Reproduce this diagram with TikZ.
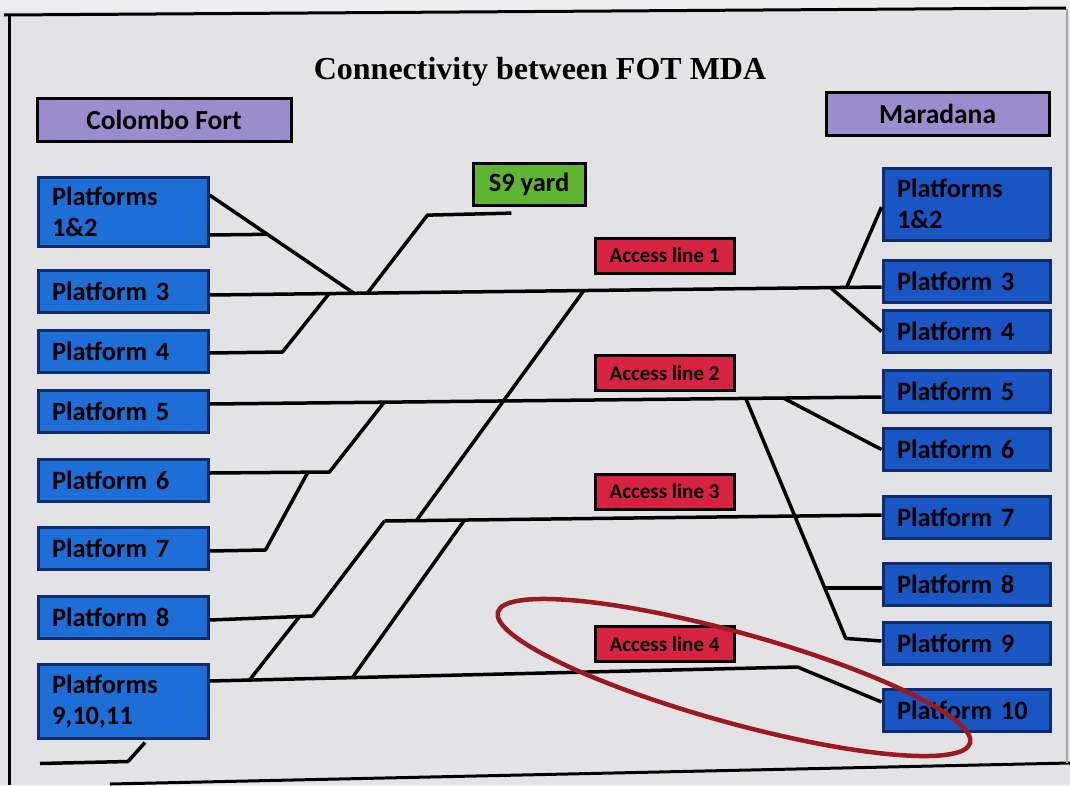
\documentclass[tikz,border=0pt]{standalone}
\usepackage{fontspec}
\setmainfont{Carlito}
\newfontfamily\titlefont{Liberation Serif}
\usepackage{xcolor}
\definecolor{paper}{RGB}{227,227,229}
\definecolor{paperlight}{RGB}{238,238,240}
\definecolor{leftblue}{RGB}{30,110,215}
\definecolor{rightblue}{RGB}{25,85,195}
\definecolor{boxedge}{RGB}{15,45,110}
\definecolor{stationpurple}{RGB}{155,140,205}
\definecolor{accred}{RGB}{215,35,65}
\definecolor{yardgreen}{RGB}{95,180,50}
\definecolor{ovalred}{RGB}{155,25,35}

\begin{document}
\begin{tikzpicture}[x=1pt,y=-1pt,
    plat/.style={draw=boxedge,line width=3pt,minimum height=42pt,inner xsep=14pt,inner ysep=0pt,align=left,font=\fontsize{26.5}{31}\selectfont\bfseries},
    lplat/.style={plat,fill=leftblue,text width=142pt},
    rplat/.style={plat,fill=rightblue,text width=139pt},
    station/.style={draw=black,line width=3pt,fill=stationpurple,minimum height=43pt,inner sep=0pt,font=\fontsize{27.5}{31}\selectfont\bfseries},
    yard/.style={draw=black,line width=3pt,fill=yardgreen,minimum width=112pt,minimum height=42pt,inner sep=0pt,font=\fontsize{26.5}{30}\selectfont\bfseries},
    access/.style={draw=black,line width=3pt,fill=accred,minimum width=139pt,minimum height=35pt,inner sep=0pt,font=\fontsize{21}{24}\selectfont\bfseries},
    track/.style={line width=3.5pt,line join=round}]
    \useasboundingbox (0,0) rectangle (1070,785);
    \fill[paper] (0,0) rectangle (1070,785);
    \fill[paperlight] (0,0) rectangle (1070,11);
    \draw[line width=3pt] (4,15) -- (1066,8);
    \draw[line width=3pt] (9,14) -- (9,785);
    \draw[line width=3pt] (110,784) -- (1070,763);
    \draw[gray!70,line width=1.5pt] (1067,9) -- (1067,763);

    \node[font=\titlefont\bfseries\fontsize{32}{38}\selectfont] (title) at (540,72) {Connectivity between FOT MDA};
    \node[station,minimum width=254pt] (fort) at (164,119.5) {Colombo Fort};
    \node[station,minimum width=223pt] (mda) at (937.5,114) {Maradana};
    \node[yard] (s9) at (529,184) {S9 yard};

    \node[lplat,minimum height=69pt] (lp12) at (123,211.5) {Platforms\\1\&2};
    \node[lplat] (lp3) at (123,291) {Platform 3};
    \node[lplat] (lp4) at (123,351) {Platform 4};
    \node[lplat] (lp5) at (123,411) {Platform 5};
    \node[lplat] (lp6) at (123,480) {Platform 6};
    \node[lplat] (lp7) at (123,548) {Platform 7};
    \node[lplat] (lp8) at (123,617) {Platform 8};
    \node[lplat,minimum height=74pt] (lp911) at (123,701) {Platforms\\9,10,11};

    \node[rplat,minimum height=72pt] (rp12) at (966.5,204) {Platforms\\1\&2};
    \node[rplat] (rp3) at (966.5,281.5) {Platform 3};
    \node[rplat] (rp4) at (966.5,331.5) {Platform 4};
    \node[rplat] (rp5) at (966.5,391.5) {Platform 5};
    \node[rplat] (rp6) at (966.5,449.5) {Platform 6};
    \node[rplat] (rp7) at (966.5,517.5) {Platform 7};
    \node[rplat] (rp8) at (966.5,584) {Platform 8};
    \node[rplat] (rp9) at (966.5,643) {Platform 9};
    \node[rplat] (rp10) at (966.5,710.5) {Platform 10};

    \node[access] (al1) at (664.5,255.5) {Access line 1};
    \node[access] (al2) at (664.5,373) {Access line 2};
    \node[access] (al3) at (664.5,491.5) {Access line 3};
    \node[access] (al4) at (664.5,644) {Access line 4};

    \draw[track] ([yshift=-4pt]lp3.east) -- ([yshift=-5.5pt]rp3.west)
        coordinate[pos=0.178] (k4) coordinate[pos=0.215] (k12) coordinate[pos=0.235] (ks9)
        coordinate[pos=0.557] (ka1) coordinate[pos=0.924] (kr4) coordinate[pos=0.948] (kr12);
    \draw[track] ([yshift=16.5pt]lp12.east) -- (k12) coordinate[pos=0.4] (k12b);
    \draw[track] ([yshift=-23.5pt]lp12.east) -- (k12b);
    \draw[track] ([yshift=-2pt]lp4.east) -- ++(73,-1) -- (k4);
    \draw[track] (ks9) -- ++(60,-78) -- ++(84,-2) coordinate (s9end);
    \draw[track] (kr12) -- ([yshift=-3pt]rp12.west);
    \draw[track] (kr4) -- (rp4.west);

    \draw[track] ([yshift=7pt]lp5.east) -- ([yshift=-5.5pt]rp5.west)
        coordinate[pos=0.26] (k6) coordinate[pos=0.798] (kr9) coordinate[pos=0.854] (kr6);
    \draw[track] ([yshift=7pt]lp6.east) -- ++(120,-1) coordinate[pos=0.82] (k7) -- (k6);
    \draw[track] ([yshift=-3pt]lp7.east) -- ++(56,-1) -- (k7);
    \draw[track] (kr6) -- (rp6.west);
    \draw[track] (kr9) -- ++(100,240) coordinate[pos=0.79] (kr8) -- ([yshift=2pt]rp9.west);
    \draw[track] (kr8) -- (rp8.west |- kr8);

    \draw[track] ([yshift=-3pt]lp8.east) -- ++(103,-4) coordinate[pos=0.874] (k911) -- ++(72,-95) coordinate (m3);
    \draw[track] (m3) -- ([yshift=2.5pt]rp7.west) coordinate[pos=0.064] (ka1b) coordinate[pos=0.161] (kd);
    \draw[track] (ka1) -- (ka1b);

    \draw[track] ([yshift=20pt]lp911.east) -- ++(588,-14) coordinate[pos=0.068] (k911b) coordinate[pos=0.243] (kd4)
        -- ([yshift=8.5pt]rp10.west);
    \draw[track] (k911b) -- (k911);
    \draw[track] (kd) -- (kd4);
    \draw[track] ([xshift=22pt,yshift=-3pt]lp911.south) -- ++(-17,19) -- ++(-88,2) coordinate (stubend);

    \draw[ovalred,line width=4.5pt,rotate around={-15.5:(734,677.5)}] (734,677.5) ellipse [x radius=245, y radius=45];
\end{tikzpicture}
\end{document}
